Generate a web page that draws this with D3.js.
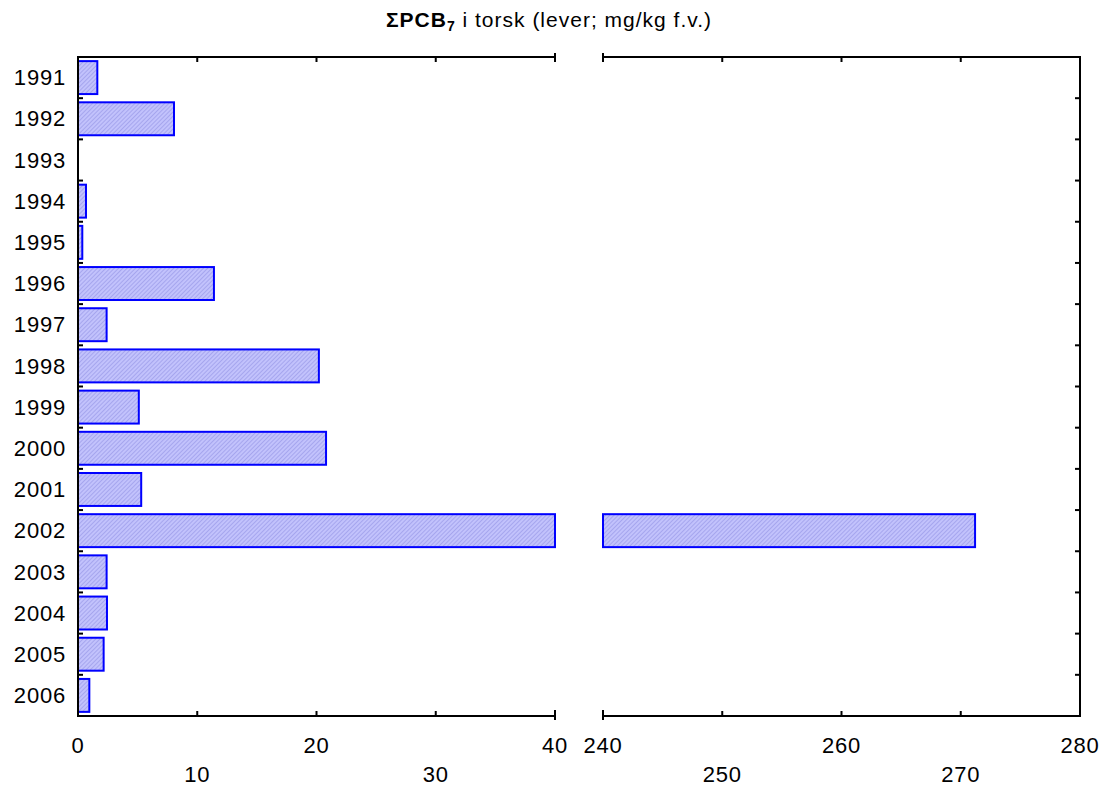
<!DOCTYPE html>
<meta charset="utf-8">
<style>
body { margin: 0; background: #fff; }
svg text { font-family: "Liberation Sans", Arial, sans-serif; fill: #000; letter-spacing: 0.8px; }
.bar { stroke: #0000ff; stroke-width: 2px; fill: url(#hatch); }
.frame { stroke: #000; stroke-width: 2px; fill: none; }
.tick-line { stroke: #000; stroke-width: 2px; }
</style>
<div id="chart"></div>
<script src="https://d3js.org/d3.v7.min.js"></script>
<script>
// data (mg/kg wet weight)
var years = ["1991","1992","1993","1994","1995","1996","1997","1998",
             "1999","2000","2001","2002","2003","2004","2005","2006"];
var values = [1.62, 8.05, null, 0.67, 0.36, 11.4, 2.4, 20.2,
              5.1, 20.8, 5.3, 271.2, 2.4, 2.43, 2.15, 0.95];
var leftTicks = [0, 10, 20, 30, 40];
var rightTicks = [240, 250, 260, 270, 280];

var width = 1104, height = 787;
var yTop = 57, yBottom = 716;

var svg = d3.select("#chart").append("svg")
    .attr("width", width)
    .attr("height", height);

// hatched fill like the original
var pat = svg.append("defs").append("pattern")
    .attr("id", "hatch")
    .attr("patternUnits", "userSpaceOnUse")
    .attr("width", 3).attr("height", 3)
    .attr("patternTransform", "rotate(45)");
pat.append("rect").attr("width", 3).attr("height", 3).attr("fill", "#c2c2fc");
pat.append("rect").attr("width", 1).attr("height", 3).attr("fill", "#a6a6ee");

var data = years.map(function(y, i) { return {year: y, value: values[i]}; });

var y = d3.scaleBand()
    .domain(years)
    .range([yTop, yBottom])
    .paddingInner(0.2)
    .paddingOuter(0.1);

var xl = d3.scaleLinear().domain([0, 40]).range([78, 555]).clamp(true);
var xr = d3.scaleLinear().domain([240, 280]).range([603, 1080]).clamp(true);

// title
var title = svg.append("text")
    .attr("x", 549).attr("y", 27)
    .attr("text-anchor", "middle")
    .style("font-size", "21px")
    .style("letter-spacing", "1px");
title.append("tspan").style("font-weight", "bold").text("ΣPCB");
title.append("tspan").style("font-weight", "bold").style("font-size", "14px")
    .attr("dy", 4).text("7");
title.append("tspan").attr("dy", -4).text(" i torsk (lever; mg/kg f.v.)");

// bars
var bars = data.filter(function(d) { return d.value != null; });

svg.selectAll(".bar-left")
    .data(bars)
    .enter().append("rect")
    .attr("class", "bar")
    .attr("x", xl(0))
    .attr("y", function(d) { return y(d.year); })
    .attr("width", function(d) { return xl(d.value) - xl(0); })
    .attr("height", y.bandwidth());

svg.selectAll(".bar-right")
    .data(bars.filter(function(d) { return d.value > 240; }))
    .enter().append("rect")
    .attr("class", "bar")
    .attr("x", xr(240))
    .attr("y", function(d) { return y(d.year); })
    .attr("width", function(d) { return xr(d.value) - xr(240); })
    .attr("height", y.bandwidth());

// frames: left panel has its left side, right panel has its right side
svg.append("path").attr("class", "frame")
    .attr("d", "M" + xl(40) + "," + yTop + "H" + xl(0) + "V" + yBottom + "H" + xl(40));
svg.append("path").attr("class", "frame")
    .attr("d", "M" + xr(240) + "," + yTop + "H" + xr(280) + "V" + yBottom + "H" + xr(240));

// end caps at the break
[xl(40), xr(240)].forEach(function(x) {
  svg.append("line").attr("class", "tick-line")
      .attr("x1", x).attr("x2", x).attr("y1", yTop - 4).attr("y2", yTop + 4);
  svg.append("line").attr("class", "tick-line")
      .attr("x1", x).attr("x2", x).attr("y1", yBottom - 6).attr("y2", yBottom + 4);
});

// inward x ticks on top and bottom
function xTicks(scale, ticks) {
  ticks.forEach(function(t) {
    svg.append("line").attr("class", "tick-line")
        .attr("x1", scale(t)).attr("x2", scale(t))
        .attr("y1", yTop).attr("y2", yTop + 5);
    svg.append("line").attr("class", "tick-line")
        .attr("x1", scale(t)).attr("x2", scale(t))
        .attr("y1", yBottom).attr("y2", yBottom - 5);
  });
  svg.selectAll(null)
      .data(ticks)
      .enter().append("text")
      .attr("x", function(d) { return scale(d); })
      .attr("y", function(d, i) { return i % 2 === 0 ? 753 : 782; })
      .attr("text-anchor", "middle")
      .style("font-size", "22px")
      .text(function(d) { return d; });
}
xTicks(xl, leftTicks);
xTicks(xr, rightTicks);

// row boundary ticks on left and right sides
var step = y.step();
years.slice(1).forEach(function(yr) {
  var yy = y(yr) - step * y.paddingInner() / 2;
  svg.append("line").attr("class", "tick-line")
      .attr("x1", xl(0)).attr("x2", xl(0) + 5).attr("y1", yy).attr("y2", yy);
  svg.append("line").attr("class", "tick-line")
      .attr("x1", xr(280)).attr("x2", xr(280) - 5).attr("y1", yy).attr("y2", yy);
});

// year labels
svg.selectAll(".ylab")
    .data(years)
    .enter().append("text")
    .attr("x", 66)
    .attr("y", function(d) { return y(d) + y.bandwidth() / 2; })
    .attr("dy", "0.35em")
    .attr("text-anchor", "end")
    .style("font-size", "22px")
    .text(function(d) { return d; });
</script>
